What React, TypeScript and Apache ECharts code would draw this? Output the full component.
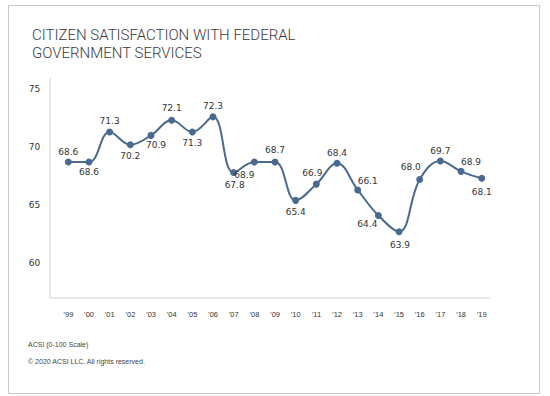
import React, { useEffect, useRef } from "react";
import * as echarts from "echarts";

// Category (year) tick labels
const years = ["’99", "’00", "’01", "’02", "’03", "’04", "’05", "’06", "’07", "’08", "’09", "’10", "’11", "’12", "’13", "’14", "’15", "’16", "’17", "’18", "’19"];
// Plotted positions of the points (as drawn in the picture)
const plotted = [68.7, 68.7, 71.3, 70.2, 71.0, 72.3, 71.3, 72.6, 67.8, 68.7, 68.7, 65.4, 66.8, 68.6, 66.3, 64.1, 62.7, 67.2, 68.8, 67.9, 67.3];
// Value labels printed beside each point
const scoreLabels = [68.6, 68.6, 71.3, 70.2, 70.9, 72.1, 71.3, 72.3, 67.8, 68.9, 68.7, 65.4, 66.9, 68.4, 66.1, 64.4, 63.9, 68.0, 69.7, 68.9, 68.1];
// Y tick settings
const yMin = 60;
const yMax = 75;
const yStep = 5;

// label placement (style): offset of label center from point center [dx, dy]
const labelOffsets: [number, number][] = [
  [0, -10], [0, 10], [0, -11], [0, 11], [5, 10], [0, -12], [0, 11], [0, -11],
  [1, 12], [-10, 13], [0, -12], [0, 12], [-4, -11], [0, -10], [10, -9], [-11, 9],
  [1, 13], [-9, -12], [0, -10], [10, -9], [0, 14],
];

export default function App() {
  const ref = useRef<HTMLDivElement>(null);
  useEffect(() => {
    if (!ref.current) return;
    const chart = echarts.init(ref.current, null, { renderer: "svg" });
    const lineColor = "#4a6990";
    chart.setOption({
      animation: false,
      backgroundColor: "#ffffff",
      title: {
        text: "CITIZEN SATISFACTION WITH FEDERAL\nGOVERNMENT SERVICES",
        left: 27,
        top: 21.5,
        textStyle: {
          fontFamily: "Roboto, Liberation Sans, Arial, sans-serif",
          fontSize: 15,
          lineHeight: 17.6,
          fontWeight: 300,
          color: "#3a3a3a",
        },
      },
      grid: [
        { left: 68.3, right: 68.3, top: 89, bottom: 133 },
        { left: 49.5, right: 60.7, top: 79, bottom: 98 },
      ],
      xAxis: [
        {
          type: "category",
          gridIndex: 0,
          data: years,
          boundaryGap: false,
          axisLine: { show: false },
          axisTick: { show: false },
          splitLine: { show: false },
          axisLabel: {
            margin: 47,
            fontFamily: "Liberation Sans, Arial, sans-serif",
            fontSize: 7.5,
            color: "#333",
            interval: 0,
          },
        },
        {
          type: "value",
          gridIndex: 1,
          min: 0,
          max: 1,
          axisLine: { show: true, onZero: false, lineStyle: { color: "#e8e8e8", width: 2 } },
          axisTick: { show: false },
          axisLabel: { show: false },
          splitLine: { show: false },
        },
      ],
      yAxis: [
        {
          type: "value",
          gridIndex: 0,
          min: yMin,
          max: yMax,
          interval: yStep,
          axisLine: { show: false },
          axisTick: { show: false },
          splitLine: { show: false },
          axisLabel: {
            margin: 28,
            fontFamily: "DejaVu Sans, sans-serif",
            fontSize: 9,
            color: "#333",
          },
        },
        {
          type: "value",
          gridIndex: 1,
          min: 0,
          max: 1,
          axisLine: { show: true, onZero: false, lineStyle: { color: "#e8e8e8", width: 2 } },
          axisTick: { show: false },
          axisLabel: { show: false },
          splitLine: { show: false },
        },
      ],
      series: [
        {
          type: "line",
          xAxisIndex: 0,
          yAxisIndex: 0,
          data: plotted.map((v, i) => ({
            value: v,
            label: { offset: labelOffsets[i] },
          })),
          smooth: 0.4,
          symbol: "circle",
          symbolSize: 7,
          lineStyle: { color: lineColor, width: 2 },
          itemStyle: { color: lineColor },
          label: {
            show: true,
            position: "inside",
            formatter: (p: any) => scoreLabels[p.dataIndex].toFixed(1),
            fontFamily: "DejaVu Sans, sans-serif",
            fontSize: 9,
            color: "#333",
          },
        },
      ],
      graphic: [
        {
          type: "rect",
          shape: { x: 8.5, y: 5.5, width: 531, height: 388 },
          style: { fill: "none", stroke: "#c8c8c8", lineWidth: 1 },
          silent: true,
        },
        {
          type: "text",
          left: 28,
          top: 341,
          style: {
            text: "ACSI (0-100 Scale)",
            font: "7px Liberation Sans, Arial, sans-serif",
            fill: "#444",
          },
        },
        {
          type: "text",
          left: 28,
          top: 357.5,
          style: {
            text: "© 2020 ACSI LLC. All rights reserved.",
            font: "7px Liberation Sans, Arial, sans-serif",
            fill: "#444",
          },
        },
      ],
    });
    return () => chart.dispose();
  }, []);
  return (
    <div
      ref={ref}
      style={{ position: "absolute", left: 0, top: 0, width: 550, height: 396 }}
    />
  );
}
